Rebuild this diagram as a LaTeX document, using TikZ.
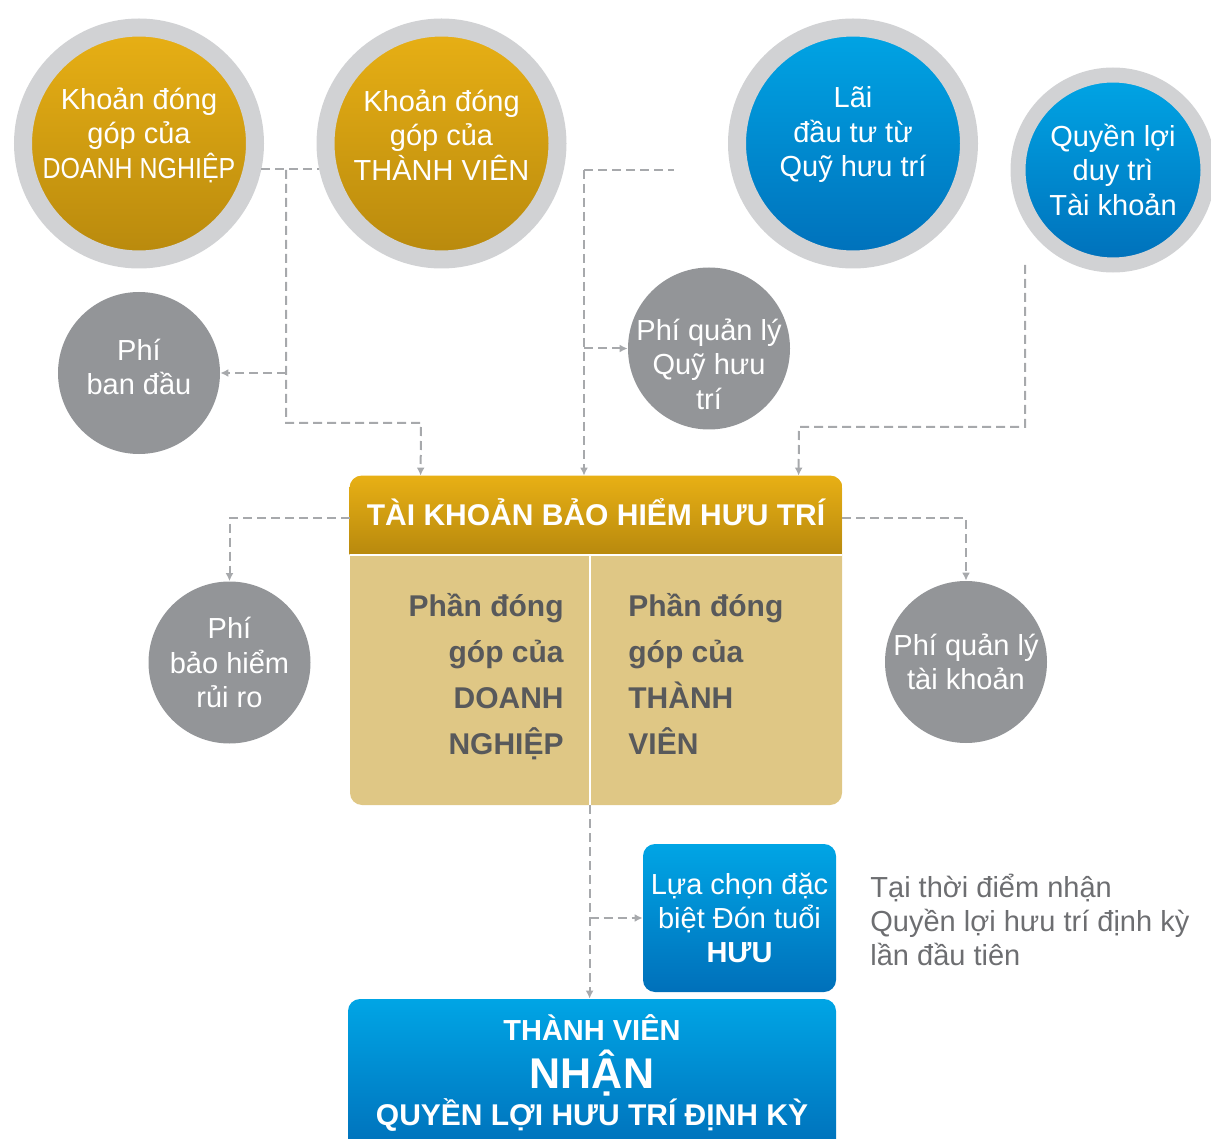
\documentclass[tikz,border=0pt]{standalone}
\usepackage{fontspec}
\setmainfont{Liberation Sans}
\usepackage{graphicx}
\usetikzlibrary{arrows.meta, positioning, calc}

\definecolor{goldtop}{HTML}{E8B015}
\definecolor{goldbot}{HTML}{B8890D}
\definecolor{bluetop}{HTML}{00A5E5}
\definecolor{bluebot}{HTML}{0070BA}
\definecolor{ringgrey}{HTML}{D1D2D4}
\definecolor{feegrey}{HTML}{939598}
\definecolor{dashgrey}{HTML}{A7A9AC}
\definecolor{tan}{HTML}{DFC785}
\definecolor{inkgrey}{HTML}{58595B}
\definecolor{notegrey}{HTML}{6D6E71}

\newcommand\circfont{\fontsize{14.5}{17.25}\selectfont}
\newcommand\colfont{\fontsize{15}{22.85}\selectfont\bfseries}

\tikzset{%
	ring/.style={circle, draw=ringgrey, inner sep=0mm},
	goldring/.style={ring, minimum size=116pt, line width=9pt, top color=goldtop, bottom color=goldbot},
	bluering/.style={ring, top color=bluetop, bottom color=bluebot},
	ringtext/.style={align=center, text=white, font=\circfont, inner sep=0mm},
	fee/.style={circle, fill=feegrey, minimum size=81pt, inner sep=0mm, align=center, text=white, font=\circfont},
	acctbox/.style={rectangle, fill=tan, rounded corners=6pt, minimum width=246pt, minimum height=164.5pt},
	headtext/.style={text=white, font=\fontsize{15}{18}\selectfont\bfseries},
	coltext/.style={text=inkgrey, font=\colfont, inner sep=0mm},
	bluebox/.style={rectangle, rounded corners=6pt, top color=bluetop, bottom color=bluebot, text=white},
	paytext/.style={text=white, font=\fontsize{14.5}{17}\selectfont\bfseries},
	notetext/.style={text=notegrey, align=left, inner sep=0mm, font=\fontsize{14.5}{17}\selectfont},
	flow/.style={draw=dashgrey, line width=1pt, dash pattern=on 4.5pt off 2.5pt},
	feed/.style={flow, -{Latex[length=4pt, width=4pt]}}
}

\begin{document}
\begin{tikzpicture}[x=0.5pt, y=-0.5pt]
	\useasboundingbox (0,0) rectangle (1211,1139);
	\clip (0,0) rectangle (1211,1139);

	% sources
	\node[goldring] (dnC) at (139,143.5) {};
	\node[ringtext] (dnTxt) at (139,135) {Khoản đóng\\góp của\\\scalebox{0.86}[1]{DOANH NGHIỆP}};
	\node[goldring] (tvC) at (441.5,143.5) {};
	\node[ringtext] (tvTxt) at (441.5,135) {Khoản đóng\\góp của\\THÀNH VIÊN};
	\node[bluering, minimum size=116pt, line width=9pt] (laiC) at (853,143.5) {};
	\node[ringtext] (laiTxt) at (853,135) {Lãi\\đầu tư từ\\Quỹ hưu trí};
	\node[bluering, minimum size=95pt, line width=7.5pt, ringtext] (qlC) at (1113,170) {Quyền lợi\\duy trì\\Tài khoản};

	% fees
	\node[fee] (feeInit) at (139,373) {};
	\node[ringtext] (feeInitTxt) at (139,367) {Phí\\ban đầu};
	\node[fee] (feeFund) at (709,348.5) {};
	\node[ringtext] (feeFundTxt) at (709,364) {Phí quản lý\\Quỹ hưu\\trí};
	\node[fee] (feeRisk) at (229.5,662.5) {Phí\\bảo hiểm\\rủi ro};
	\node[fee] (feeAcct) at (966,662) {Phí quản lý\\tài khoản};

	% account
	\node[acctbox] (acct) at (596,640.5) {};
	\begin{scope}
		\clip[rounded corners=6pt] (acct.north west) rectangle (acct.south east);
		\shade[top color=goldtop, bottom color=goldbot] (acct.north west) rectangle ($(acct.north east)+(0,79)$);
	\end{scope}
	\draw[white, line width=1pt] ($(acct.north west)+(0,79)$) -- ($(acct.north east)+(0,79)$);
	\draw[white, line width=1pt] ($(acct.north west)+(240,79)$) -- ($(acct.south west)+(240,0)$);
	\node[headtext, anchor=base] (head) at (596,525) {TÀI KHOẢN BẢO HIỂM HƯU TRÍ};
	\node[coltext, align=right, anchor=base east] (colDN) at (564,754) {Phần đóng\\góp của\\DOANH\\NGHIỆP};
	\node[coltext, align=left, anchor=base west] (colTV) at (628,754) {Phần đóng\\góp của\\THÀNH\\VIÊN};

	% payout
	\node[bluebox, minimum width=96.5pt, minimum height=74pt, align=center, font=\fontsize{14.5}{17}\selectfont] (choice) at (739.5,918) {Lựa chọn đặc\\biệt Đón tuổi\\\textbf{HƯU}};
	\node[notetext, anchor=base west] (note) at (870,965) {Tại thời điểm nhận\\Quyền lợi hưu trí định kỳ\\lần đầu tiên};
	\node[bluebox, minimum width=244pt, minimum height=76pt] (payout) at (592,1075) {};
	\node[paytext, anchor=base] (pay1) at (592,1040) {THÀNH VIÊN};
	\node[paytext, anchor=base, font=\fontsize{21.5}{24}\selectfont\bfseries] (pay2) at (592,1088) {NHẬN};
	\node[paytext, anchor=base, font=\fontsize{15}{18}\selectfont\bfseries] (pay3) at (592,1125) {QUYỀN LỢI HƯU TRÍ ĐỊNH KỲ};

	% connectors
	\coordinate (j1) at (286,170);
	\coordinate (j2) at (584,170);
	\coordinate (laiEnd) at (674,170);
	\coordinate (q0) at (1025,265);
	\coordinate (split) at ($(acct.south west)+(240,0)$);

	\draw[flow] (dnC.-12.5) -- (tvC.192.5);
	\draw[feed] (j1) -- (286,423) -- (421,423) -- ($(acct.north west)+(71,0)$);
	\draw[feed] (j1 |- feeInit) -- (feeInit.east);
	\draw[flow] (j2) -- (laiEnd);
	\draw[feed] (j2) -- (j2 |- acct.north);
	\draw[feed] (j2 |- feeFund) -- (feeFund.west);
	\draw[feed] (q0) |- (799,427) -- ($(acct.north west)+(449,0)$);
	\draw[feed] ($(acct.north west)+(0,42)$) -| (feeRisk.north);
	\draw[feed] ($(acct.north east)+(0,42)$) -| (feeAcct.north);
	\draw[feed] (split) -- (split |- payout.north);
	\draw[feed] (split |- choice) -- (choice.west);
\end{tikzpicture}
\end{document}
